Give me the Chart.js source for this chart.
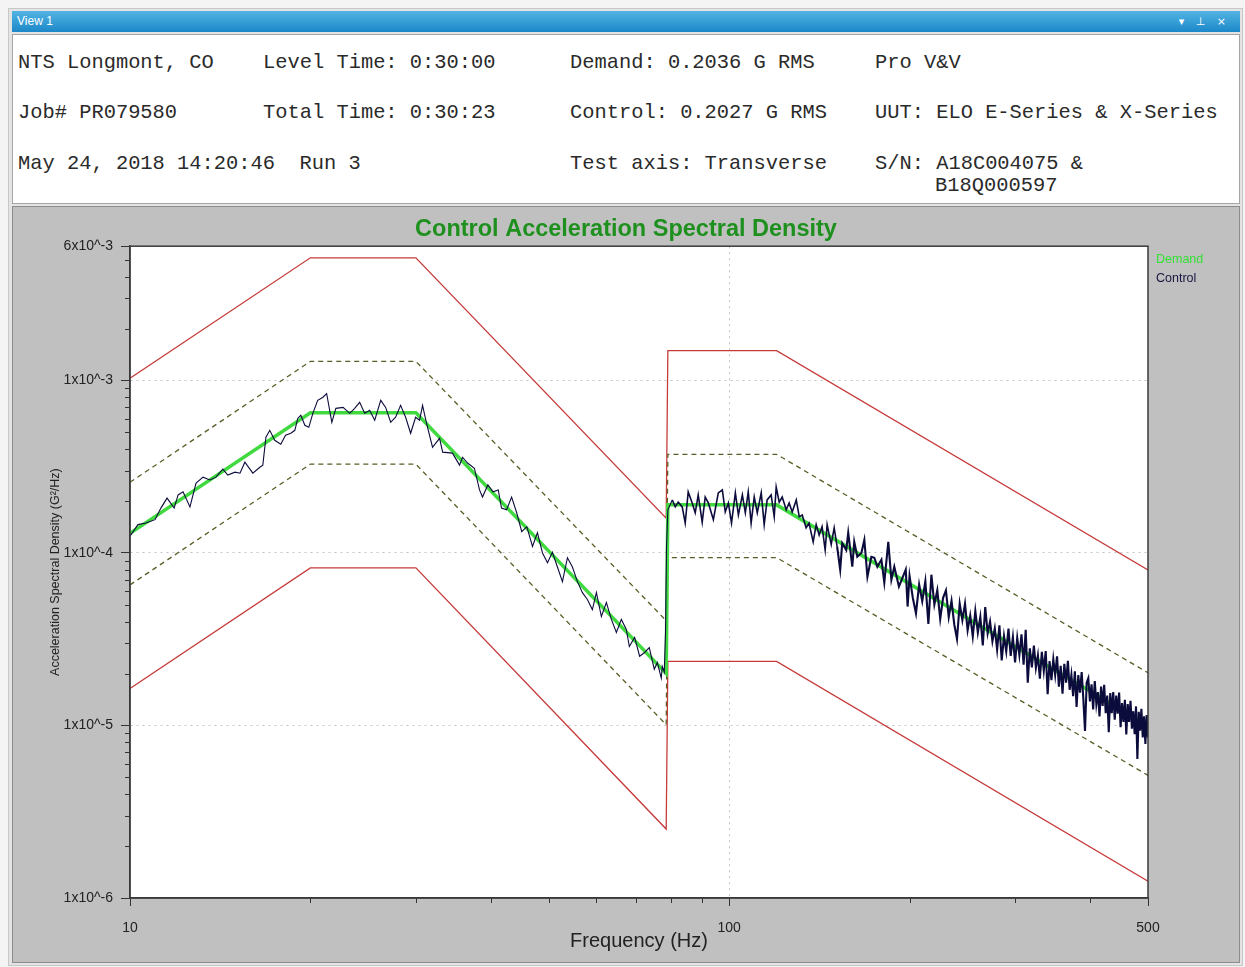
<!DOCTYPE html>
<html>
<head>
<meta charset="utf-8">
<title>Control Acceleration Spectral Density</title>
<script src="https://cdn.jsdelivr.net/npm/chart.js@4.4.1/dist/chart.umd.min.js"></script>
<style>
  body { margin: 0; width: 1245px; height: 967px; background: #f4f4f4; position: relative; overflow: hidden; }
  #frame { position: absolute; left: 8px; top: 8px; width: 1233px; height: 956px; border: 1px solid #c8c8c8; background: #e4e4e4; }
  #bar { position: absolute; left: 12px; top: 11px; width: 1228px; height: 21px; background: linear-gradient(#52b4e2, #1c88c9); color: #fff;
         font: 12px "Liberation Sans", Arial, sans-serif; line-height: 21px; }
  #bar .name { position: absolute; left: 5px; }
  #bar .icons { position: absolute; right: 10px; font-family: "DejaVu Sans", sans-serif; font-size: 11px; letter-spacing: 4px; }
  #info { position: absolute; left: 12px; top: 34px; width: 1226px; height: 168px; background: #fff; border: 1px solid #a4a4a4; }
  .t { position: absolute; font: 20.4px "Liberation Mono", "DejaVu Sans Mono", monospace; color: #2a2a2a; line-height: 24px; white-space: pre; }
  #panel { position: absolute; left: 12px; top: 206px; width: 1226px; height: 755px; background: #c0c0c0; border: 1px solid #8c8c8c; }
  #psd { position: absolute; left: 12px; top: 207px; }
</style>
</head>
<body>
<div id="frame"></div>
<div id="bar"><span class="name">View 1</span><span class="icons">▾ ⊥ ×</span></div>
<div id="info"></div>
<div class="t" style="left:18px;top:51px">NTS Longmont, CO</div>
<div class="t" style="left:263px;top:51px">Level Time: 0:30:00</div>
<div class="t" style="left:570px;top:51px">Demand: 0.2036 G RMS</div>
<div class="t" style="left:875px;top:51px">Pro V&amp;V</div>
<div class="t" style="left:18px;top:101px">Job# PR079580</div>
<div class="t" style="left:263px;top:101px">Total Time: 0:30:23</div>
<div class="t" style="left:570px;top:101px">Control: 0.2027 G RMS</div>
<div class="t" style="left:875px;top:101px">UUT: ELO E-Series &amp; X-Series</div>
<div class="t" style="left:18px;top:152px">May 24, 2018 14:20:46  Run 3</div>
<div class="t" style="left:570px;top:152px">Test axis: Transverse</div>
<div class="t" style="left:875px;top:152px">S/N: A18C004075 &amp;</div>
<div class="t" style="left:935px;top:174px">B18Q000597</div>
<div id="panel"></div>
<canvas id="psd" width="1228" height="755"></canvas>
<script>
// test profile breakpoints (Hz) and levels (G²/Hz)
const profileHz = [10, 20, 30, 78.5, 79, 120, 500];
const demandPsd = [1.30e-4, 6.50e-4, 6.50e-4, 2.00e-5, 1.90e-4, 1.90e-4, 1.00e-5];
const alarmHigh = [2.57e-4, 1.29e-3, 1.29e-3, 4.05e-5, 3.73e-4, 3.73e-4, 2.02e-5];
const alarmLow  = [6.53e-5, 3.27e-4, 3.27e-4, 1.01e-5, 9.40e-5, 9.40e-5, 5.14e-6];
const abortHigh = [1.03e-3, 5.14e-3, 5.14e-3, 1.59e-4, 1.49e-3, 1.49e-3, 7.97e-5];
const abortLow  = [1.64e-5, 8.19e-5, 8.19e-5, 2.51e-6, 2.35e-5, 2.35e-5, 1.25e-6];

// measured control spectrum
const controlHz = [
  10, 10.31, 10.63, 11.01, 11.26, 11.53, 11.85, 12.03, 12.26, 12.59,
  12.89, 13.24, 13.59, 13.91, 14.29, 14.56, 14.97, 15.26, 15.55, 16.03,
  16.47, 16.66, 16.86, 17.11, 17.44, 17.85, 18.18, 18.55, 18.84, 19.06,
  19.28, 19.58, 19.88, 20.19, 20.57, 20.97, 21.29, 21.72, 22.06, 22.68,
  23.26, 23.71, 24.17, 24.64, 25.12, 25.61, 26.21, 26.71, 27.23, 27.75,
  28.29, 28.84, 29.40, 29.97, 30.43, 30.78, 31.25, 31.98, 32.86, 33.25,
  34.53, 35.48, 35.89, 36.59, 37.56, 38.31, 38.75, 39.56, 40.36, 41.17,
  41.69, 42.51, 43.34, 44.19, 45.06, 45.94, 46.96, 47.86, 48.80, 49.75,
  50.70, 51.68, 52.69, 53.71, 54.75, 55.81, 56.89, 57.99, 59.11, 60.03,
  61.19, 62.38, 63.59, 64.82, 66.07, 67.35, 68.13, 69.53, 70.88, 72.25,
  73.56, 74.99, 75.86, 77.03, 77.32, 77.92, 78.3, 78.6, 79.0,
  80.35, 81.28, 82.22, 83.49, 84.45, 85.43, 86.75, 87.76, 88.78, 90.15,
  91.2, 92.3, 94.1, 95.9, 97.4, 98.5, 99.7, 100.9, 102.4, 103.6,
  105.2, 106.4, 107.6, 108.8, 110.1, 111.4, 113.1, 114.4, 115.7, 117.5,
  118.9, 119.8, 121.2, 122.6, 124.5, 125.9, 127.4, 129.4, 130.9, 132.4,
  134.4, 135.9, 138.1, 139.7, 141.3, 142.9, 144.6, 145.7, 148.0, 149.7,
  151.4, 153.2, 154.4, 156.8, 158.0, 160.5, 161.7, 163.6, 166.2, 168.1,
  170.1, 172.7, 174.7, 176.7, 179.5, 181.5, 184.3, 186.5, 188.6, 192.0,
  197.1, 198.5,
  200, 202.5, 205, 207.5, 210, 212.5, 215, 217.5, 220, 222.5,
  225, 227.5, 230, 232.5, 235, 237.5, 240, 242.5, 245, 247.5,
  250, 252.5, 255, 257.5, 260, 262.5, 265, 267.5, 270, 272.5,
  275, 277.5, 280, 282.5, 285, 287.5, 290, 292.5, 295, 297.5,
  300, 302.5, 305, 307.5, 310, 312.5, 315, 317.5, 320, 322.5,
  325, 327.5, 330, 332.5, 335, 337.5, 340, 342.5, 345, 347.5,
  350, 352.5, 355, 357.5, 360, 362.5, 365, 367.5, 370, 372.5,
  375, 377.5, 380, 382.5, 385, 387.5, 390, 392.5, 395, 397.5,
  400, 402.5, 405, 407.5, 410, 412.5, 415, 417.5, 420, 422.5,
  425, 427.5, 430, 432.5, 435, 437.5, 440, 442.5, 445, 447.5,
  450, 452.5, 455, 457.5, 460, 462.5, 465, 467.5, 470, 472.5,
  475, 477.5, 480, 482.5, 485, 487.5, 490, 492.5, 495, 497.5, 500
];
const controlPsd = [
  1.25e-4, 1.46e-4, 1.49e-4, 1.56e-4, 1.82e-4, 2.08e-4, 1.82e-4, 2.17e-4, 2.26e-4, 1.85e-4,
  2.54e-4, 2.75e-4, 2.65e-4, 2.75e-4, 3.06e-4, 2.83e-4, 2.94e-4, 2.90e-4, 3.36e-4, 2.90e-4,
  3.14e-4, 3.23e-4, 4.69e-4, 5.14e-4, 4.50e-4, 4.27e-4, 4.81e-4, 4.94e-4, 5.14e-4, 6.04e-4,
  6.28e-4, 5.50e-4, 5.35e-4, 6.45e-4, 7.67e-4, 7.97e-4, 8.40e-4, 5.72e-4, 6.89e-4, 6.98e-4,
  6.45e-4, 6.89e-4, 7.47e-4, 6.45e-4, 6.71e-4, 5.88e-4, 7.67e-4, 6.98e-4, 5.72e-4, 6.12e-4,
  7.17e-4, 6.12e-4, 4.94e-4, 6.12e-4, 5.88e-4, 7.17e-4, 5.65e-4, 4.10e-4, 4.62e-4, 3.84e-4,
  3.79e-4, 3.23e-4, 3.59e-4, 3.32e-4, 3.10e-4, 2.32e-4, 2.11e-4, 2.48e-4, 2.26e-4, 2.32e-4,
  1.82e-4, 1.78e-4, 2.11e-4, 1.71e-4, 1.33e-4, 1.42e-4, 1.09e-4, 1.31e-4, 1.00e-4, 8.78e-5,
  1.01e-4, 8.29e-5, 6.82e-5, 9.38e-5, 8.29e-5, 6.82e-5, 5.89e-5, 5.37e-5, 4.70e-5, 5.89e-5,
  4.28e-5, 5.16e-5, 4.12e-5, 3.46e-5, 4.12e-5, 3.60e-5, 2.87e-5, 3.24e-5, 2.52e-5, 2.65e-5,
  2.83e-5, 2.12e-5, 2.32e-5, 1.88e-5, 2.20e-5, 2.04e-5, 3.46e-5, 1.09e-4, 1.78e-4,
  2.03e-4, 1.85e-4, 1.97e-4, 1.85e-4, 1.49e-4, 2.26e-4, 1.95e-4, 1.71e-4, 2.17e-4, 1.51e-4,
  2.11e-4, 1.95e-4, 1.56e-4, 2.23e-4, 2.32e-4, 1.73e-4, 1.95e-4, 1.49e-4, 2.23e-4, 1.66e-4,
  2.17e-4, 1.71e-4, 2.26e-4, 1.49e-4, 2.11e-4, 1.71e-4, 2.23e-4, 1.46e-4, 2.03e-4, 2.17e-4,
  1.62e-4, 2.41e-4, 1.97e-4, 2.11e-4, 1.78e-4, 1.95e-4, 1.73e-4, 2.03e-4, 1.62e-4, 1.66e-4,
  1.40e-4, 1.49e-4, 1.16e-4, 1.46e-4, 1.27e-4, 1.42e-4, 1.04e-4, 1.46e-4, 1.12e-4, 1.40e-4,
  1.09e-4, 8.00e-5, 1.14e-4, 1.04e-4, 1.31e-4, 8.32e-5, 1.16e-4, 9.50e-5, 1.00e-4, 1.19e-4,
  7.29e-5, 9.50e-5, 9.38e-5, 8.32e-5, 9.14e-5, 6.73e-5, 1.16e-4, 7.00e-5, 8.32e-5, 6.38e-5,
  8.00e-5, 4.89e-5,
  7.36e-5, 5.50e-5, 4.46e-5, 6.57e-5, 5.25e-5, 6.86e-5, 3.88e-5, 7.48e-5, 5.02e-5, 6.08e-5,
  4.14e-5, 5.50e-5, 6.06e-5, 4.25e-5, 5.28e-5, 3.85e-5, 3.17e-5, 5.08e-5, 4.08e-5, 5.08e-5,
  3.56e-5, 4.33e-5, 3.28e-5, 4.61e-5, 3.46e-5, 4.26e-5, 2.91e-5, 4.86e-5, 3.42e-5, 4.00e-5,
  3.08e-5, 3.65e-5, 2.75e-5, 3.81e-5, 2.38e-5, 3.30e-5, 2.69e-5, 3.64e-5, 2.53e-5, 3.25e-5,
  2.32e-5, 3.22e-5, 2.56e-5, 3.38e-5, 2.25e-5, 3.59e-5, 1.77e-5, 2.80e-5, 2.17e-5, 2.90e-5,
  2.16e-5, 2.55e-5, 1.87e-5, 2.67e-5, 2.08e-5, 2.70e-5, 1.52e-5, 2.36e-5, 1.83e-5, 2.42e-5,
  1.96e-5, 2.52e-5, 1.68e-5, 2.22e-5, 1.53e-5, 2.28e-5, 1.77e-5, 2.37e-5, 1.61e-5, 1.96e-5,
  1.48e-5, 2.06e-5, 1.28e-5, 1.96e-5, 1.55e-5, 2.04e-5, 1.42e-5, 9.30e-6, 1.77e-5, 1.88e-5,
  1.38e-5, 1.73e-5, 1.24e-5, 1.81e-5, 1.33e-5, 1.56e-5, 1.13e-5, 1.68e-5, 1.30e-5, 1.72e-5,
  1.18e-5, 1.49e-5, 9.13e-6, 1.54e-5, 1.18e-5, 1.56e-5, 1.08e-5, 1.49e-5, 1.17e-5, 1.55e-5,
  9.76e-6, 1.35e-5, 1.05e-5, 1.41e-5, 8.88e-6, 1.33e-5, 1.05e-5, 1.39e-5, 9.59e-6, 1.21e-5,
  8.89e-6, 1.29e-5, 6.40e-6, 1.20e-5, 9.33e-6, 1.25e-5, 8.52e-6, 1.13e-5, 7.81e-6, 1.15e-5, 8.52e-6
];

// axis ticks
const xTickValues = [10, 20, 30, 40, 50, 60, 70, 80, 90, 100, 200, 300, 400, 500];
const xTickLabels = ['10', '', '', '', '', '', '', '', '', '100', '', '', '', '500'];
const yTickValues = [
  1e-6, 2e-6, 3e-6, 4e-6, 5e-6, 6e-6, 7e-6, 8e-6, 9e-6,
  1e-5, 2e-5, 3e-5, 4e-5, 5e-5, 6e-5, 7e-5, 8e-5, 9e-5,
  1e-4, 2e-4, 3e-4, 4e-4, 5e-4, 6e-4, 7e-4, 8e-4, 9e-4,
  1e-3, 2e-3, 3e-3, 4e-3, 5e-3, 6e-3
];
const yTickLabels = [
  '1x10^-6', '', '', '', '', '', '', '', '',
  '1x10^-5', '', '', '', '', '', '', '', '',
  '1x10^-4', '', '', '', '', '', '', '', '',
  '1x10^-3', '', '', '', '', '6x10^-3'
];

const font = "'Liberation Sans', Arial, sans-serif";
const gridGray = '#c4c4c4';

function pts(hz, vals) {
  return hz.map((f, i) => ({ x: f, y: vals[i] }));
}

// inner gridline only on labelled ticks that are not the plot edges
function gridColor(labels) {
  return c => (labels[c.index] && c.index > 0 && c.index < labels.length - 1) ? gridGray : 'transparent';
}
function tickColor(labels) {
  return c => labels[c.index] ? '#333' : 'transparent';
}

const plotFrame = {
  id: 'plotFrame',
  beforeDraw(c) {
    const { ctx, chartArea: a } = c;
    ctx.save();
    ctx.fillStyle = '#fff';
    ctx.fillRect(a.left, a.top, a.right - a.left, a.bottom - a.top);
    ctx.restore();
  },
  afterDraw(c) {
    const { ctx, chartArea: a, scales: { x, y } } = c;
    ctx.save();
    // short minor ticks
    ctx.strokeStyle = '#333';
    ctx.lineWidth = 1;
    ctx.beginPath();
    y.ticks.forEach((t, i) => {
      if (yTickLabels[i]) return;
      const py = Math.round(y.getPixelForValue(t.value)) + 0.5;
      ctx.moveTo(a.left - 5, py);
      ctx.lineTo(a.left, py);
    });
    x.ticks.forEach((t, i) => {
      if (xTickLabels[i]) return;
      const px = Math.round(x.getPixelForValue(t.value)) + 0.5;
      ctx.moveTo(px, a.bottom);
      ctx.lineTo(px, a.bottom + 5);
    });
    ctx.stroke();
    // box round the plot
    ctx.strokeStyle = '#3a3a3a';
    ctx.lineWidth = 1.5;
    ctx.strokeRect(a.left, a.top, a.right - a.left, a.bottom - a.top);
    // legend text
    ctx.font = '12.5px ' + font;
    ctx.textAlign = 'left';
    ctx.textBaseline = 'middle';
    ctx.fillStyle = '#33e033';
    ctx.fillText(c.data.datasets[1].label, a.right + 8, a.top + 13);
    ctx.fillStyle = '#151540';
    ctx.fillText(c.data.datasets[0].label, a.right + 8, a.top + 32);
    ctx.restore();
  }
};

const chart = new Chart(document.getElementById('psd'), {
  type: 'line',
  data: {
    datasets: [
      {
        label: 'Control', data: pts(controlHz, controlPsd), borderColor: '#0c0c3c', borderWidth: 1.1,
        // the fine-resolution part above the step reads as a thick band
        segment: { borderWidth: s => s.p0.parsed.x > 150 ? 2.1 : (s.p0.parsed.x > 79 ? 1.6 : 1.1) }
      },
      { label: 'Demand', data: pts(profileHz, demandPsd), borderColor: '#40da40', borderWidth: 3.5 },
      { label: 'Alarm high', data: pts(profileHz, alarmHigh), borderColor: '#5c5c26', borderWidth: 1.3, borderDash: [5, 4] },
      { label: 'Alarm low', data: pts(profileHz, alarmLow), borderColor: '#5c5c26', borderWidth: 1.3, borderDash: [5, 4] },
      { label: 'Abort high', data: pts(profileHz, abortHigh), borderColor: '#c63a3a', borderWidth: 1.3 },
      { label: 'Abort low', data: pts(profileHz, abortLow), borderColor: '#c63a3a', borderWidth: 1.3 }
    ]
  },
  options: {
    responsive: false,
    animation: false,
    events: [],
    elements: { point: { radius: 0 }, line: { tension: 0, fill: false } },
    layout: { padding: 0 },
    plugins: {
      legend: { display: false },
      tooltip: { enabled: false },
      title: {
        display: true,
        text: 'Control Acceleration Spectral Density',
        color: '#1e901e',
        font: { family: font, size: 23.5, weight: 'bold' },
        padding: { top: 8, bottom: 3 }
      }
    },
    scales: {
      x: {
        type: 'logarithmic',
        min: 10,
        max: 500,
        afterBuildTicks: s => { s.ticks = xTickValues.map(v => ({ value: v })); },
        afterFit: s => { s.height = 64; },
        ticks: {
          autoSkip: false,
          maxRotation: 0,
          padding: 14,
          color: '#222',
          font: { family: font, size: 14 },
          callback: (v, i) => xTickLabels[i]
        },
        grid: { color: gridColor(xTickLabels), tickColor: tickColor(xTickLabels), tickLength: 8, lineWidth: 1 },
        border: { display: true, color: '#3a3a3a', width: 1.5, dash: [2, 4] },
        title: { display: true, text: 'Frequency (Hz)', color: '#222', font: { family: font, size: 20 }, padding: { top: 0, bottom: 9 } }
      },
      y: {
        type: 'logarithmic',
        min: 1e-6,
        max: 6e-3,
        afterBuildTicks: s => { s.ticks = yTickValues.map(v => ({ value: v })); },
        afterFit: s => { s.width = 118; },
        ticks: {
          autoSkip: false,
          padding: 8,
          color: '#222',
          font: { family: font, size: 14 },
          callback: (v, i) => yTickLabels[i]
        },
        grid: { color: gridColor(yTickLabels), tickColor: tickColor(yTickLabels), tickLength: 9, lineWidth: 1 },
        border: { display: true, color: '#3a3a3a', width: 1.5, dash: [2, 4] },
        title: { display: true, text: 'Acceleration Spectral Density (G²/Hz)', color: '#222', font: { family: font, size: 12.5 }, padding: { top: 36, bottom: 0 } }
      },
      // empty strip on the right that holds the legend text
      side: {
        type: 'linear',
        position: 'right',
        min: 0,
        max: 1,
        afterFit: s => { s.width = 92; },
        ticks: { display: false },
        grid: { display: false },
        border: { display: false }
      }
    }
  },
  plugins: [plotFrame]
});
</script>
</body>
</html>
